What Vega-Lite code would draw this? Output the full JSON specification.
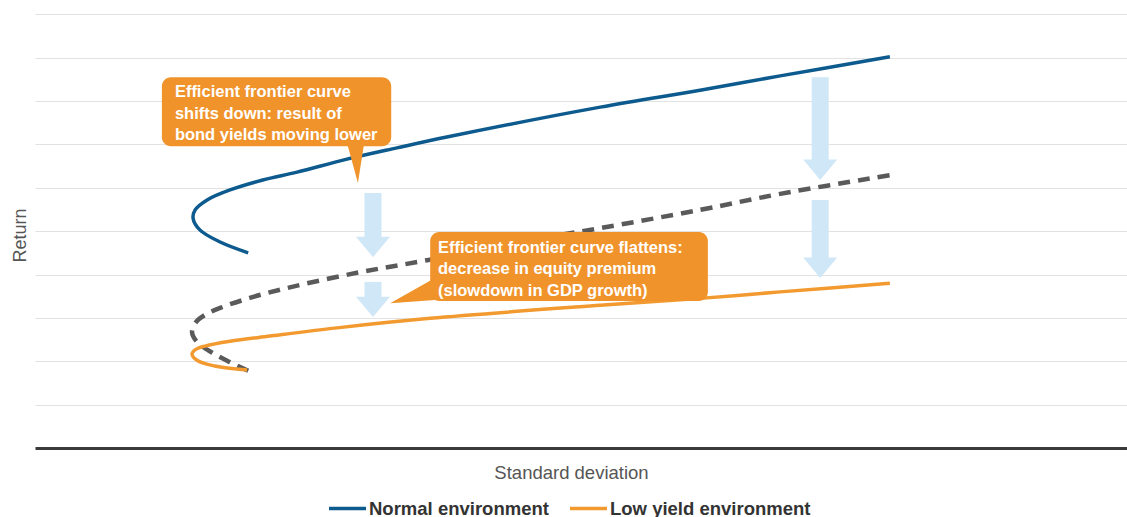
{
  "$schema": "https://vega.github.io/schema/vega-lite/v6.json",
  "autosize": "none",
  "width": 1092,
  "height": 448,
  "padding": {"left": 35, "top": 0, "right": 0, "bottom": 69},
  "background": "white",
  "datasets": {
    "frontiers": [
      {"series": "Normal environment", "i": 0, "sd": 4.10, "ret": 4.50},
      {"series": "Normal environment", "i": 1, "sd": 3.56, "ret": 4.75},
      {"series": "Normal environment", "i": 2, "sd": 3.17, "ret": 5.03},
      {"series": "Normal environment", "i": 3, "sd": 3.04, "ret": 5.30},
      {"series": "Normal environment", "i": 4, "sd": 3.08, "ret": 5.49},
      {"series": "Normal environment", "i": 5, "sd": 3.31, "ret": 5.72},
      {"series": "Normal environment", "i": 6, "sd": 3.75, "ret": 5.95},
      {"series": "Normal environment", "i": 7, "sd": 4.38, "ret": 6.18},
      {"series": "Normal environment", "i": 8, "sd": 5.04, "ret": 6.36},
      {"series": "Normal environment", "i": 9, "sd": 6.00, "ret": 6.66},
      {"series": "Normal environment", "i": 10, "sd": 6.96, "ret": 6.92},
      {"series": "Normal environment", "i": 11, "sd": 7.92, "ret": 7.17},
      {"series": "Normal environment", "i": 12, "sd": 10.87, "ret": 7.86},
      {"series": "Normal environment", "i": 13, "sd": 12.79, "ret": 8.25},
      {"series": "Normal environment", "i": 14, "sd": 14.33, "ret": 8.58},
      {"series": "Normal environment", "i": 15, "sd": 16.44, "ret": 9.02},
      {"series": "Low yield environment", "i": 0, "sd": 4.08, "ret": 1.80},
      {"series": "Low yield environment", "i": 1, "sd": 3.46, "ret": 1.89},
      {"series": "Low yield environment", "i": 2, "sd": 3.13, "ret": 2.01},
      {"series": "Low yield environment", "i": 3, "sd": 3.02, "ret": 2.17},
      {"series": "Low yield environment", "i": 4, "sd": 3.10, "ret": 2.28},
      {"series": "Low yield environment", "i": 5, "sd": 3.27, "ret": 2.35},
      {"series": "Low yield environment", "i": 6, "sd": 3.75, "ret": 2.46},
      {"series": "Low yield environment", "i": 7, "sd": 4.52, "ret": 2.58},
      {"series": "Low yield environment", "i": 8, "sd": 5.81, "ret": 2.77},
      {"series": "Low yield environment", "i": 9, "sd": 7.60, "ret": 2.99},
      {"series": "Low yield environment", "i": 10, "sd": 10.87, "ret": 3.29},
      {"series": "Low yield environment", "i": 11, "sd": 12.79, "ret": 3.45},
      {"series": "Low yield environment", "i": 12, "sd": 14.33, "ret": 3.60},
      {"series": "Low yield environment", "i": 13, "sd": 16.44, "ret": 3.80}
    ],
    "shifted": [
      {"i": 0, "sd": 4.10, "ret": 1.78},
      {"i": 1, "sd": 3.75, "ret": 1.98},
      {"i": 2, "sd": 3.42, "ret": 2.19},
      {"i": 3, "sd": 3.12, "ret": 2.44},
      {"i": 4, "sd": 3.02, "ret": 2.67},
      {"i": 5, "sd": 3.10, "ret": 2.91},
      {"i": 6, "sd": 3.27, "ret": 3.07},
      {"i": 7, "sd": 3.56, "ret": 3.23},
      {"i": 8, "sd": 4.13, "ret": 3.46},
      {"i": 9, "sd": 4.85, "ret": 3.69},
      {"i": 10, "sd": 6.19, "ret": 4.04},
      {"i": 11, "sd": 7.54, "ret": 4.33},
      {"i": 12, "sd": 9.33, "ret": 4.75},
      {"i": 13, "sd": 10.87, "ret": 5.07},
      {"i": 14, "sd": 12.79, "ret": 5.49},
      {"i": 15, "sd": 14.33, "ret": 5.86},
      {"i": 16, "sd": 16.44, "ret": 6.29}
    ],
    "arrows": [
      {"sd": 6.50, "from": 5.88, "neck": 4.84, "tip": 4.40},
      {"sd": 6.50, "from": 3.83, "neck": 3.46, "tip": 3.02},
      {"sd": 15.10, "from": 8.55, "neck": 6.62, "tip": 6.18},
      {"sd": 15.10, "from": 5.72, "neck": 4.36, "tip": 3.92}
    ],
    "boxes": [
      {"sd": 2.44, "sd2": 6.85, "ret": 8.55, "ret2": 6.96, "label": "Efficient frontier curve|shifts down: result of|bond yields moving lower", "tx": 2.69, "ty": 8.09},
      {"sd": 7.60, "sd2": 12.94, "ret": 4.98, "ret2": 3.39, "label": "Efficient frontier curve flattens:|decrease in equity premium|(slowdown in GDP growth)", "tx": 7.75, "ty": 4.50}
    ],
    "tailDown": [
      {"ret": 7.03, "sd": 6.00, "sd2": 6.33},
      {"ret": 6.11, "sd": 6.21, "sd2": 6.21}
    ],
    "tailLeft": [
      {"sd": 6.83, "ret": 3.34, "ret2": 3.34},
      {"sd": 7.69, "ret": 3.92, "ret2": 3.41}
    ]
  },
  "layer": [
    {
      "data": {"name": "arrows"},
      "mark": {"type": "rule", "color": "#cfe7f6", "strokeWidth": 17, "strokeCap": "butt"},
      "encoding": {
        "x": {
          "field": "sd", "type": "quantitative", "title": "Standard deviation",
          "scale": {"domain": [0, 21], "nice": false, "zero": false},
          "axis": {
            "labels": false, "ticks": false, "grid": false,
            "domain": true, "domainColor": "#3a3a3a", "domainWidth": 3,
            "titleFont": "Liberation Sans", "titleFontSize": 18.5, "titleFontWeight": "normal",
            "titleColor": "#555555", "titleX": 536, "titleY": 30,
            "titleAlign": "center", "titleBaseline": "alphabetic"
          }
        },
        "y": {
          "field": "from", "type": "quantitative", "title": "Return",
          "scale": {"domain": [0, 10.33], "nice": false, "zero": false},
          "axis": {
            "values": [1, 2, 3, 4, 5, 6, 7, 8, 9, 10],
            "labels": false, "ticks": false, "domain": false,
            "grid": true, "gridColor": "#e2e2e2", "gridWidth": 1,
            "titleFont": "Liberation Sans", "titleFontSize": 18, "titleFontWeight": "normal",
            "titleColor": "#555555", "titleAngle": -90, "titleX": -10, "titleY": 235,
            "titleAlign": "center", "titleBaseline": "alphabetic"
          }
        },
        "y2": {"field": "neck"}
      }
    },
    {
      "data": {"name": "arrows"},
      "mark": {
        "type": "point", "filled": true, "opacity": 1, "strokeWidth": 0,
        "color": "#cfe7f6", "size": 1156,
        "shape": "M-1,-1.2L1,-1.2L0,0Z"
      },
      "encoding": {
        "x": {"field": "sd", "type": "quantitative", "title": "Standard deviation"},
        "y": {"field": "tip", "type": "quantitative", "title": "Return"}
      }
    },
    {
      "data": {"name": "shifted"},
      "mark": {
        "type": "line", "color": "#5a5a5a", "strokeWidth": 4.5,
        "strokeDash": [12, 8], "interpolate": "catmull-rom"
      },
      "encoding": {
        "x": {"field": "sd", "type": "quantitative", "title": "Standard deviation"},
        "y": {"field": "ret", "type": "quantitative", "title": "Return"},
        "order": {"field": "i", "type": "quantitative"}
      }
    },
    {
      "data": {"name": "frontiers"},
      "mark": {"type": "line", "strokeWidth": 3.5, "interpolate": "catmull-rom"},
      "encoding": {
        "x": {"field": "sd", "type": "quantitative", "title": "Standard deviation"},
        "y": {"field": "ret", "type": "quantitative", "title": "Return"},
        "order": {"field": "i", "type": "quantitative"},
        "color": {
          "field": "series", "type": "nominal",
          "scale": {
            "domain": ["Normal environment", "Low yield environment"],
            "range": ["#0d5a8e", "#f29a30"]
          },
          "legend": {
            "title": null, "orient": "none", "direction": "horizontal",
            "legendX": 292, "legendY": 488, "padding": 0,
            "symbolType": "stroke", "symbolSize": 1369, "symbolStrokeWidth": 3.5,
            "labelFont": "Liberation Sans", "labelFontSize": 18.5, "labelFontWeight": "bold",
            "labelColor": "#333333", "labelOffset": 1, "columnPadding": 14,
            "labelLimit": 400
          }
        }
      }
    },
    {
      "data": {"name": "boxes"},
      "mark": {"type": "rect", "color": "#f0932b", "cornerRadius": 9},
      "encoding": {
        "x": {"field": "sd", "type": "quantitative", "title": "Standard deviation"},
        "x2": {"field": "sd2"},
        "y": {"field": "ret", "type": "quantitative", "title": "Return"},
        "y2": {"field": "ret2"}
      }
    },
    {
      "data": {"name": "tailDown"},
      "mark": {"type": "area", "orient": "horizontal", "color": "#f0932b", "opacity": 1},
      "encoding": {
        "y": {"field": "ret", "type": "quantitative", "title": "Return"},
        "x": {"field": "sd", "type": "quantitative", "title": "Standard deviation"},
        "x2": {"field": "sd2"}
      }
    },
    {
      "data": {"name": "tailLeft"},
      "mark": {"type": "area", "orient": "vertical", "color": "#f0932b", "opacity": 1},
      "encoding": {
        "x": {"field": "sd", "type": "quantitative", "title": "Standard deviation"},
        "y": {"field": "ret", "type": "quantitative", "title": "Return"},
        "y2": {"field": "ret2"}
      }
    },
    {
      "data": {"name": "boxes"},
      "mark": {
        "type": "text", "color": "white", "align": "left", "baseline": "alphabetic",
        "font": "Liberation Sans", "fontSize": 16.5, "fontWeight": "bold",
        "lineBreak": "|", "lineHeight": 21.5
      },
      "encoding": {
        "x": {"field": "tx", "type": "quantitative", "title": "Standard deviation"},
        "y": {"field": "ty", "type": "quantitative", "title": "Return"},
        "text": {"field": "label", "type": "nominal"}
      }
    }
  ],
  "config": {
    "view": {"stroke": null}
  }
}
